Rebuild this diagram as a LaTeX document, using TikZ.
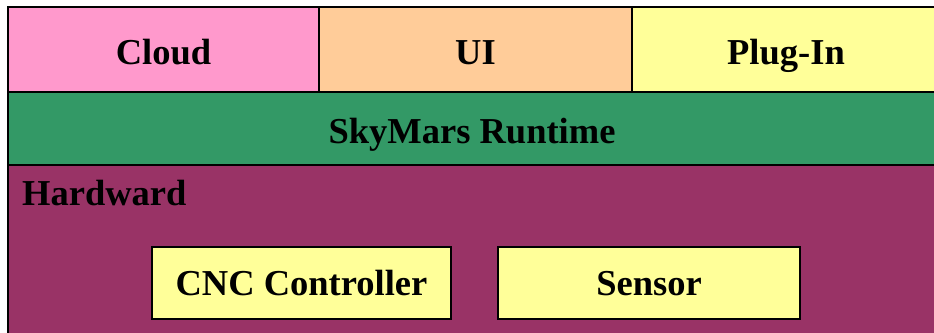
\documentclass[tikz,border=0pt]{standalone}
\usepackage{fontspec}
\setmainfont{Liberation Serif}
\definecolor{cloudpink}{HTML}{FF99CC}
\definecolor{uipeach}{HTML}{FFCC99}
\definecolor{paleyellow}{HTML}{FFFF99}
\definecolor{runtimegreen}{HTML}{339966}
\definecolor{hwpurple}{HTML}{993366}
\tikzset{
  layer/.style={draw=black, line width=2pt, inner sep=0pt, outer sep=0pt,
    font=\fontsize{36.5}{40}\selectfont\bfseries, text height=29pt, text depth=0pt},
  devicebox/.style={layer, text height=24pt}
}
\begin{document}
\begin{tikzpicture}[x=1pt, y=-1pt]
  \useasboundingbox (0,0) rectangle (934,332);
  \fill[white] (0,0) rectangle (934,332);
  \clip (0,0) rectangle (934,332);
  % bottom layer: hardware
  \node[layer, fill=hwpurple, minimum width=932pt, minimum height=180pt, anchor=north west]
    (hw) at (8,165) {};
  \node[anchor=base west, font=\fontsize{36.5}{40}\selectfont\bfseries, inner sep=0pt]
    (hwlabel) at (22,205) {Hardward};
  \node[devicebox, fill=paleyellow, minimum width=299pt, minimum height=72pt]
    (cnc) at (301.5,283) {CNC Controller};
  \node[devicebox, fill=paleyellow, minimum width=302pt, minimum height=72pt]
    (sensor) at (649,283) {Sensor};
  % middle layer: runtime
  \node[layer, fill=runtimegreen, minimum width=928pt, minimum height=73pt, anchor=north west]
    (runtime) at (8,92) {SkyMars Runtime};
  % top layer
  \node[layer, fill=cloudpink, minimum width=311pt, minimum height=85pt, anchor=north west]
    (cloud) at (8,7) {Cloud};
  \node[layer, fill=uipeach, minimum width=313pt, minimum height=85pt, anchor=north west]
    (ui) at (319,7) {UI};
  \node[layer, fill=paleyellow, minimum width=308pt, minimum height=85pt, anchor=north west]
    (plugin) at (632,7) {Plug-In};
\end{tikzpicture}
\end{document}
